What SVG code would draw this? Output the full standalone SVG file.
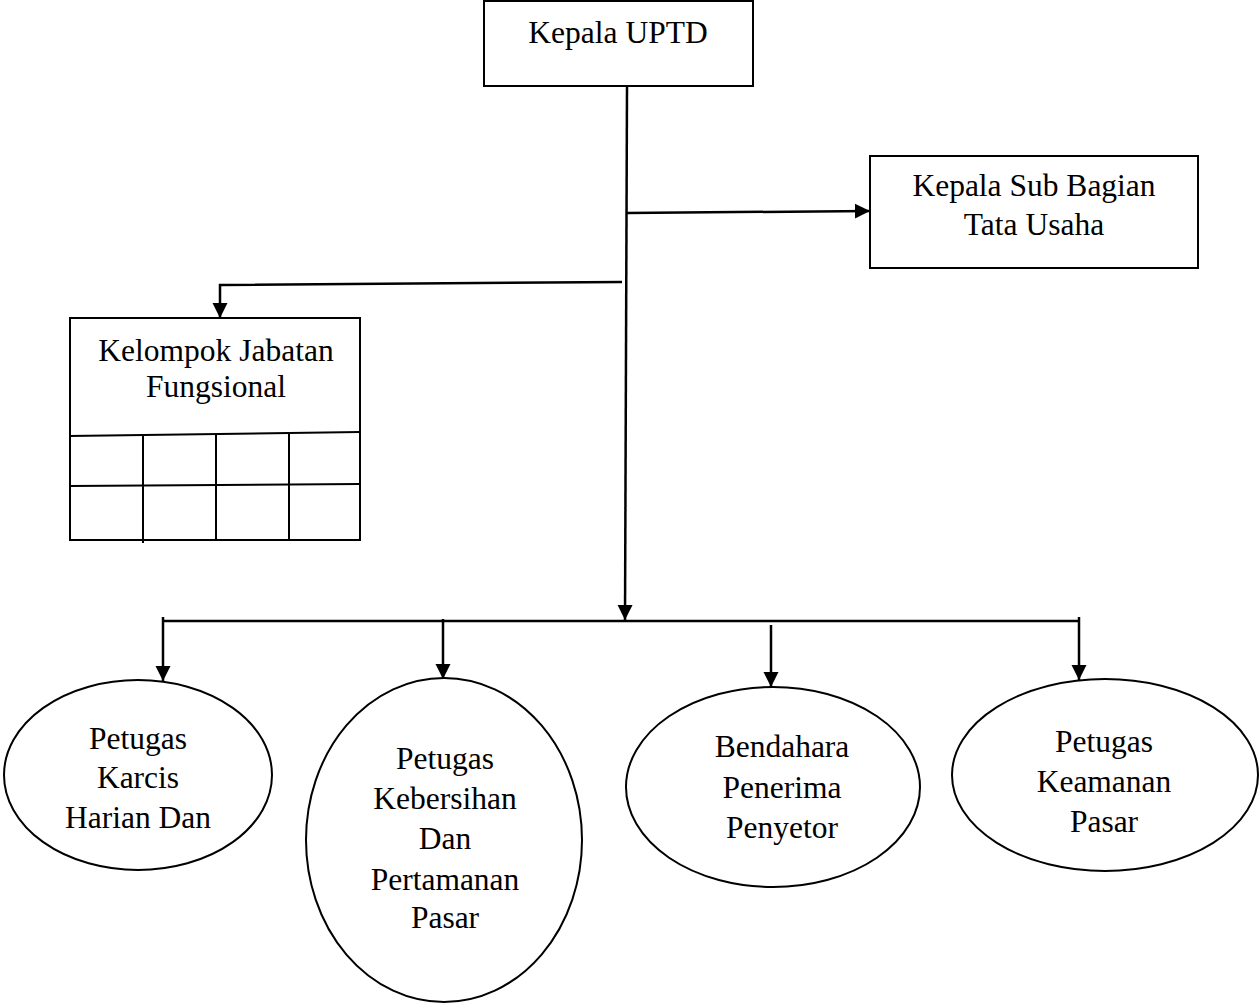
<svg xmlns="http://www.w3.org/2000/svg" width="1260" height="1006" viewBox="0 0 1260 1006">
<defs>
<style>
.box{fill:#fff;stroke:#000;stroke-width:2}
.ln{fill:none;stroke:#000;stroke-width:2.5}
.grid{fill:none;stroke:#000;stroke-width:2}
text{font-family:"Liberation Serif","Times New Roman",serif;font-size:31.5px;fill:#000;text-anchor:middle}
</style>
<marker id="ah" viewBox="0 0 10 10" refX="10" refY="5" markerWidth="6" markerHeight="6.4" markerUnits="strokeWidth" orient="auto">
<path d="M0,0 L10,5 L0,10 Z" fill="#000"/>
</marker>
</defs>
<rect width="1260" height="1006" fill="#fff"/>
<g id="connectors">
<line class="ln" x1="627" y1="86" x2="625" y2="620" marker-end="url(#ah)"/>
<line class="ln" x1="627" y1="213" x2="870" y2="211" marker-end="url(#ah)"/>
<polyline class="ln" points="622,282 220,285 220,318" marker-end="url(#ah)"/>
<line class="ln" x1="162" y1="621" x2="1080" y2="621"/>
<line class="ln" x1="163" y1="617" x2="163" y2="681" marker-end="url(#ah)"/>
<line class="ln" x1="443" y1="619" x2="443" y2="679" marker-end="url(#ah)"/>
<line class="ln" x1="771" y1="625" x2="771" y2="687" marker-end="url(#ah)"/>
<line class="ln" x1="1079" y1="617" x2="1079" y2="680" marker-end="url(#ah)"/>
</g>
<g id="kepala-uptd">
<rect class="box" x="484" y="1" width="269" height="85"/>
<text x="618" y="43">Kepala UPTD</text>
</g>
<g id="kasubag-tu">
<rect class="box" x="870" y="156" width="328" height="112"/>
<text x="1034" y="196">Kepala Sub Bagian</text>
<text x="1034" y="235">Tata Usaha</text>
</g>
<g id="kelompok-jabatan">
<rect class="box" x="70" y="318" width="290" height="222"/>
<text x="216" y="361">Kelompok Jabatan</text>
<text x="216" y="397">Fungsional</text>
<line class="grid" x1="69" y1="436" x2="360" y2="432"/>
<line class="grid" x1="70" y1="486" x2="360" y2="484"/>
<line class="grid" x1="143" y1="435" x2="143" y2="543"/>
<line class="grid" x1="216" y1="434" x2="216" y2="540"/>
<line class="grid" x1="289" y1="433" x2="289" y2="540"/>
</g>
<g id="petugas-karcis">
<ellipse class="box" cx="138" cy="775" rx="134" ry="95"/>
<text x="138" y="749">Petugas</text>
<text x="138" y="788">Karcis</text>
<text x="138" y="828">Harian Dan</text>
</g>
<g id="petugas-kebersihan">
<ellipse class="box" cx="444" cy="840" rx="138" ry="162"/>
<text x="445" y="769">Petugas</text>
<text x="445" y="809">Kebersihan</text>
<text x="445" y="849">Dan</text>
<text x="445" y="890">Pertamanan</text>
<text x="445" y="928">Pasar</text>
</g>
<g id="bendahara">
<ellipse class="box" cx="773" cy="787" rx="147" ry="100"/>
<text x="782" y="757">Bendahara</text>
<text x="782" y="798">Penerima</text>
<text x="782" y="838">Penyetor</text>
</g>
<g id="petugas-keamanan">
<ellipse class="box" cx="1105" cy="775" rx="153" ry="96"/>
<text x="1104" y="752">Petugas</text>
<text x="1104" y="792">Keamanan</text>
<text x="1104" y="832">Pasar</text>
</g>
</svg>
